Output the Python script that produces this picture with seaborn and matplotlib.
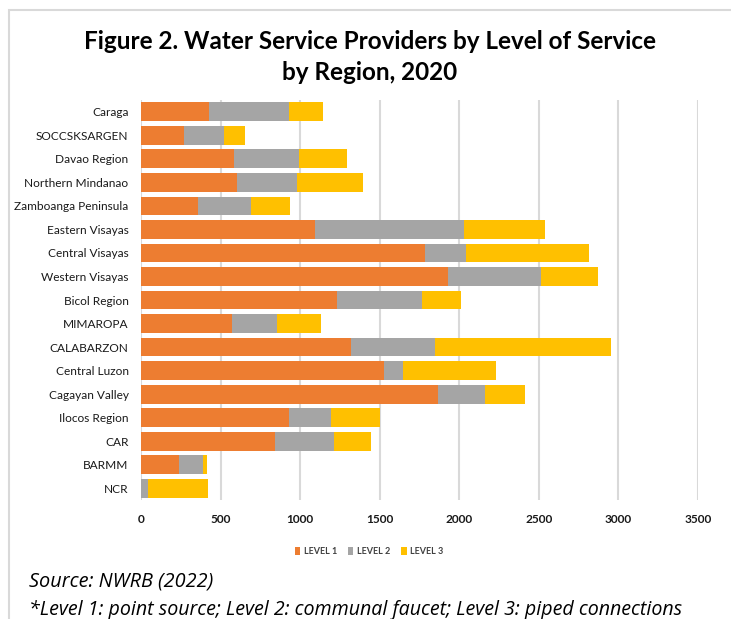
import matplotlib
matplotlib.use('Agg')
import matplotlib.pyplot as plt
import pandas as pd
import seaborn as sns
from matplotlib.patches import Rectangle, Patch

sns.set_style('white')
plt.rcParams['font.family'] = ['Lato', 'DejaVu Sans']

regions = ['Caraga', 'SOCCSKSARGEN', 'Davao Region', 'Northern Mindanao',
           'Zamboanga Peninsula', 'Eastern Visayas', 'Central Visayas',
           'Western Visayas', 'Bicol Region', 'MIMAROPA', 'CALABARZON',
           'Central Luzon', 'Cagayan Valley', 'Ilocos Region', 'CAR',
           'BARMM', 'NCR']
level1 = [427, 268, 584, 603, 356, 1096, 1785, 1930, 1229, 572, 1317,
          1529, 1864, 930, 842, 241, 0]
level2 = [500, 251, 406, 379, 337, 934, 254, 584, 539, 281, 533,
          118, 297, 264, 373, 150, 42]
level3 = [218, 132, 302, 415, 243, 509, 778, 356, 245, 276, 1102,
          586, 252, 308, 228, 25, 376]
series = ['LEVEL 1', 'LEVEL 2', 'LEVEL 3']
colors = ['#ED7D31', '#A5A5A5', '#FFC000']

df = pd.DataFrame({'region': regions, 'l1': level1, 'l2': level2, 'l3': level3})
df['c2'] = df['l1'] + df['l2']
df['c3'] = df['c2'] + df['l3']

fig = plt.figure(figsize=(7.31, 6.19), dpi=100)
ax = fig.add_axes([0.1929, 0.1922, 0.762, 0.6462])

for col, color in zip(['c3', 'c2', 'l1'], colors[::-1]):
    sns.barplot(data=df, x=col, y='region', color=color, width=0.8,
                saturation=1, ax=ax, edgecolor='none', orient='h')

ax.set_xlim(0, 3500)
ax.set_xticks(range(0, 3501, 500))
ax.set_ylim(16.5, -0.5)
ax.set(xlabel='', ylabel='')
ax.grid(axis='x', color='#D9D9D9', linewidth=1.5)
ax.set_axisbelow(True)
for s in ax.spines.values():
    s.set_visible(False)
ax.tick_params(axis='y', length=0, labelsize=8.6, colors='#1a1a1a', pad=9)
ax.tick_params(axis='x', length=0, labelsize=8.6, colors='#1a1a1a', pad=10)
for t in ax.get_xticklabels():
    t.set_fontweight('bold')

fig.text(0.506, 0.908, 'Figure 2. Water Service Providers by Level of Service\nby Region, 2020',
         ha='center', va='center', fontsize=17.5, fontweight='bold', color='black',
         linespacing=1.45)

handles = [Patch(facecolor=c, edgecolor='none') for c in colors]
fig.legend(handles, series, loc='center', bbox_to_anchor=(0.505, 0.109), ncol=3,
           frameon=False, handlelength=0.6, handleheight=0.9,
           handletextpad=0.4, columnspacing=1.2,
           prop={'size': 6.5, 'weight': 'bold'}, labelcolor='#404040')

fig.text(0.04, 0.06, 'Source: NWRB (2022)', fontsize=14.3, style='italic', color='black',
         family=['Open Sans', 'DejaVu Sans'], va='center')
fig.text(0.04, 0.014, '*Level 1: point source; Level 2: communal faucet; Level 3: piped connections',
         fontsize=14.1, style='italic', color='black',
         family=['Open Sans', 'DejaVu Sans'], va='center')

fig.patches.append(Rectangle((9 / 731, -0.05), 1.1, 1 - 10 / 619 + 0.05,
                             transform=fig.transFigure, fill=False,
                             edgecolor='#D9D9D9', linewidth=1.5))

fig.savefig('out.png', dpi=100)
